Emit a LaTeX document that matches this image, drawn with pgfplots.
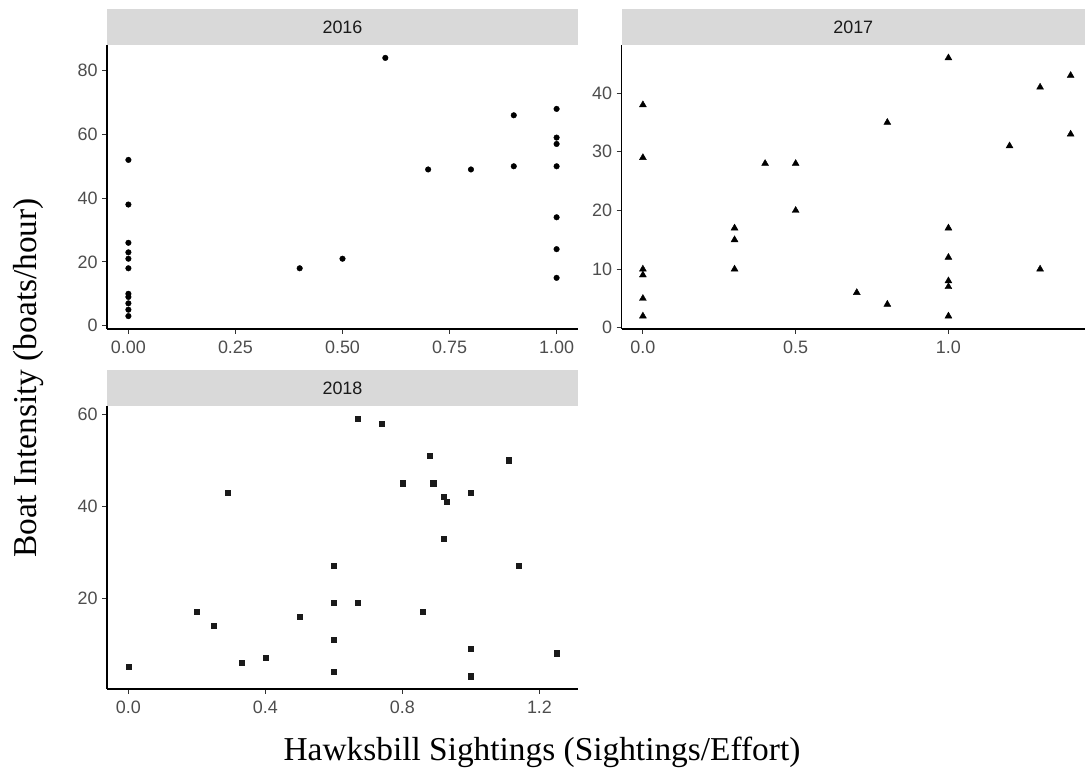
\documentclass[border=0pt]{standalone}
\usepackage{fontspec}
\setmainfont{Liberation Serif}
\newfontfamily\arialfont{Liberation Sans}
\usepackage{pgfplots}
\pgfplotsset{compat=1.18}
\usepackage{pgfplotstable}

\definecolor{stripgray}{HTML}{D9D9D9}
\definecolor{ticktext}{HTML}{4D4D4D}
\definecolor{striptext}{HTML}{1A1A1A}
\definecolor{tickline}{HTML}{333333}

% Hawksbill sightings per effort vs. boat intensity, one table per year
\pgfplotstableread{
x y
0 52
0 38
0 26
0 23
0 21
0 18
0 10
0 9
0 7
0 5
0 3
0.4 18
0.5 21
0.6 84
0.7 49
0.8 49
0.9 66
0.9 50
1.0 68
1.0 59
1.0 57
1.0 50
1.0 34
1.0 24
1.0 15
}\datasixteen

\pgfplotstableread{
x y
0 38
0 29
0 10
0 9
0 5
0 2
0.3 17
0.3 15
0.3 10
0.4 28
0.5 28
0.5 20
0.7 6
0.8 35
0.8 4
1.0 46
1.0 17
1.0 12
1.0 8
1.0 7
1.0 2
1.2 31
1.3 41
1.3 10
1.4 43
1.4 33
}\dataseventeen

\pgfplotstableread{
x y
0 5
0.2 17
0.25 14
0.29 43
0.33 6
0.4 7
0.5 16
0.6 27
0.6 19
0.6 11
0.6 4
0.67 59
0.67 19
0.74 58
0.8 45
0.86 17
0.88 51
0.89 45
0.92 42
0.93 41
0.92 33
1.0 43
1.0 9
1.0 3
1.11 50
1.14 27
1.25 8
}\dataeighteen

\pgfplotsset{
  facet/.style={
    scale only axis,
    anchor=south west,
    axis x line=bottom,
    axis y line=left,
    axis line style={-, line width=1.5bp, black},
    tick align=outside,
    major tick length=5bp,
    tick style={line width=1bp, tickline},
    ticklabel style={font=\arialfont\fontsize{18}{21}\selectfont, text=ticktext},
    xticklabel style={yshift=-3bp},
    yticklabel style={xshift=-1bp},
    clip=false,
  },
  strip/.style={
    extra description/.code={
      \fill[stripgray] (rel axis cs:0,1) rectangle ([yshift=36bp]rel axis cs:1,1);
      \node[text=striptext, font=\arialfont\fontsize{18}{21}\selectfont]
        at ([yshift=18bp]rel axis cs:0.5,1) {#1};
    },
  },
}

\begin{document}
\begin{tikzpicture}
\useasboundingbox (0,0) rectangle (1085bp,776bp);

% 2016
\begin{axis}[facet, strip=2016,
  at={(107bp,447bp)}, width=471bp, height=284bp,
  xmin=-0.05, xmax=1.05, ymin=-1.05, ymax=88.05,
  xtick={0,0.25,0.5,0.75,1}, xticklabels={0.00,0.25,0.50,0.75,1.00},
  ytick={0,20,40,60,80}, yticklabels={0,20,40,60,80}]
\addplot[only marks, mark=*, mark size=2.8bp, black] table {\datasixteen};
\end{axis}

% 2017
\begin{axis}[facet, strip=2017,
  at={(621.5bp,447bp)}, width=463.5bp, height=284bp,
  xmin=-0.07, xmax=1.447, ymin=-0.2, ymax=48.2,
  xtick={0,0.5,1}, xticklabels={0.0,0.5,1.0},
  ytick={0,10,20,30,40}, yticklabels={0,10,20,30,40}]
\addplot[only marks, mark=triangle*, mark size=4bp, black] table {\dataseventeen};
\end{axis}

% 2018
\begin{axis}[facet, strip=2018,
  at={(107bp,87bp)}, width=471bp, height=283bp,
  xmin=-0.0625, xmax=1.3125, ymin=0.2, ymax=61.8,
  xtick={0,0.4,0.8,1.2}, xticklabels={0.0,0.4,0.8,1.2},
  ytick={20,40,60}, yticklabels={20,40,60}]
\addplot[only marks, mark=square*, mark size=2.6bp, striptext] table {\dataeighteen};
\end{axis}

% shared axis titles
\node[font=\fontsize{33.5}{38}\selectfont] at (542bp,24bp)
  {Hawksbill Sightings (Sightings/Effort)};
\node[font=\fontsize{33.5}{38}\selectfont, rotate=90] at (29bp,398bp)
  {Boat Intensity (boats/hour)};
\end{tikzpicture}
\end{document}
